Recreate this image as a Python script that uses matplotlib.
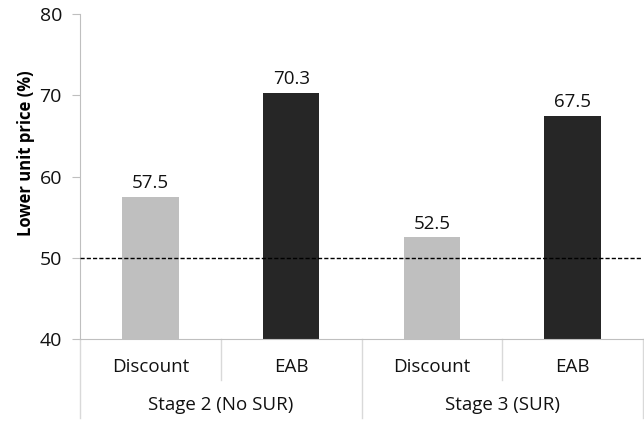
import matplotlib
matplotlib.use("Agg")
import matplotlib.pyplot as plt

categories = ["Discount", "EAB", "Discount", "EAB"]
stages = ["Stage 2 (No SUR)", "Stage 3 (SUR)"]
values = [57.5, 70.3, 52.5, 67.5]
yticks = [40, 50, 60, 70, 80]
ref_line = 50
colors = ["#bfbfbf", "#262626", "#bfbfbf", "#262626"]

plt.rcParams['font.family'] = ['Open Sans', 'DejaVu Sans']
W, H = 644, 422
fig = plt.figure(figsize=(W/100, H/100), dpi=100)
ax = fig.add_axes([80/W, 1-339/H, (643-80)/W, (339-14)/H])

x = list(range(len(values)))
ax.bar(x, values, width=0.4, color=colors, zorder=2)
for xi, v in zip(x, values):
    ax.text(xi, v + 0.6, f"{v:.1f}", ha='center', va='bottom', fontsize=13.5, color='#111111')

ax.axhline(ref_line, color='black', linestyle=(0, (3, 1.5)), linewidth=1, zorder=3)

ax.set_xlim(-0.5, len(values) - 0.5)
ax.set_ylim(40, 80)
ax.set_yticks(yticks)
ax.set_yticklabels([str(t) for t in yticks], fontsize=14, color='#111111')
ax.tick_params(axis='y', direction='out', length=6, color='#bfbfbf', pad=7)
ax.set_xticks([])
for s in ['top', 'right']:
    ax.spines[s].set_visible(False)
for s in ['left', 'bottom']:
    ax.spines[s].set_color('#bfbfbf')
ax.spines['left'].set_bounds(40, 80)
ax.set_ylabel("Lower unit price (%)", fontsize=12, fontweight='bold')

def ay(p):
    return (339 - p) / (339 - 14)
ax.yaxis.set_label_coords((35 - 80) / (643 - 80), ay(153))

tr = ax.get_xaxis_transform()
for xi, c in zip(x, categories):
    ax.text(xi, ay(367), c, transform=tr, ha='center', va='center', fontsize=13.5, color='#111111', clip_on=False)
for i, st in enumerate(stages):
    ax.text(2*i + 0.5, ay(405), st, transform=tr, ha='center', va='center', fontsize=13.5, color='#111111', clip_on=False)
for b in [0.5, 2.5]:
    ax.plot([b, b], [0, ay(380)], transform=tr, color='#d9d9d9', linewidth=1, clip_on=False)
for b in [-0.5, 1.5, 3.5]:
    ax.plot([b, b], [0, ay(418)], transform=tr, color='#d9d9d9', linewidth=1, clip_on=False)

fig.savefig("out.png", dpi=100)
